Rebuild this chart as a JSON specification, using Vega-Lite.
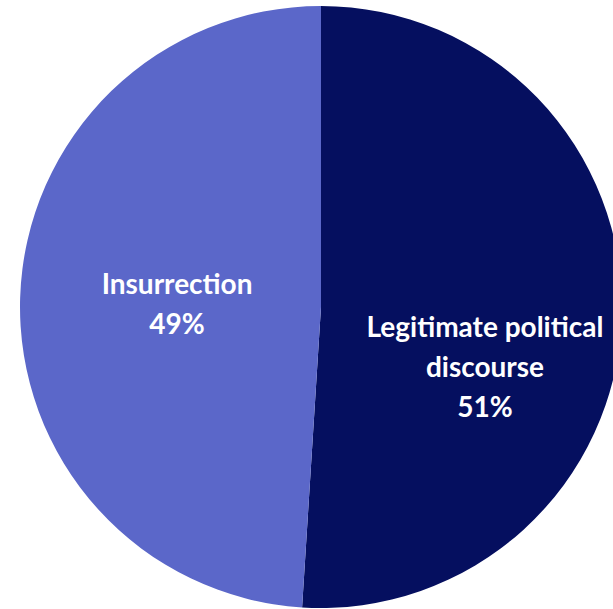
{
  "$schema": "https://vega.github.io/schema/vega-lite/v6.json",
  "width": 570,
  "height": 604,
  "padding": {"left": 36, "top": 5, "right": 7, "bottom": 0},
  "autosize": "none",
  "background": "white",
  "config": {"view": {"stroke": null}},
  "data": {
    "values": [
      {"category": "Legitimate political discourse", "value": 51, "label": "Legitimate political\ndiscourse\n51%"},
      {"category": "Insurrection", "value": 49, "label": "Insurrection\n49%"}
    ]
  },
  "encoding": {
    "theta": {"field": "value", "type": "quantitative", "stack": true},
    "order": {"field": "category", "sort": "descending"}
  },
  "layer": [
    {
      "mark": {"type": "arc", "outerRadius": 301, "stroke": null},
      "encoding": {
        "color": {
          "field": "category",
          "type": "nominal",
          "scale": {"domain": ["Legitimate political discourse", "Insurrection"], "range": ["#050F5F", "#5B67C9"]},
          "legend": null
        }
      }
    },
    {
      "mark": {"type": "text", "radius": 143, "dx": -1, "dy": -17, "font": "Lato", "fontWeight": "bold", "fontSize": 28, "fill": "white", "lineBreak": "\n", "lineHeight": 40, "align": "center", "baseline": "middle"},
      "encoding": {
        "text": {"condition": {"test": "datum.category === 'Insurrection'", "field": "label"}, "value": ""}
      }
    },
    {
      "mark": {"type": "text", "radius": 143, "dx": 21, "dy": 18, "font": "Lato", "fontWeight": "bold", "fontSize": 28, "fill": "white", "lineBreak": "\n", "lineHeight": 40, "align": "center", "baseline": "middle"},
      "encoding": {
        "text": {"condition": {"test": "datum.category !== 'Insurrection'", "field": "label"}, "value": ""}
      }
    }
  ]
}
